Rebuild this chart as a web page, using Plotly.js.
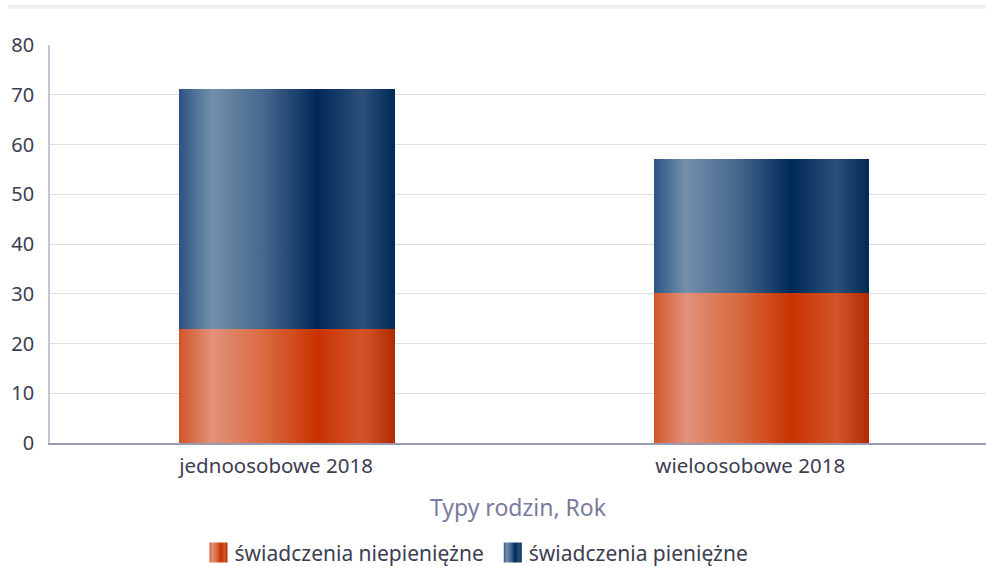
<!DOCTYPE html>
<html>
<head>
<meta charset="utf-8">
<script src="https://cdn.plot.ly/plotly-3.0.1.min.js"></script>
<style>
  html, body { margin: 0; padding: 0; background: #ffffff; overflow: hidden; }
  #chart { width: 986px; height: 567px; }
</style>
</head>
<body>
<div id="chart"></div>
<script>
  // values
  const categories = ["jednoosobowe 2018", "wieloosobowe 2018"];
  const nonCash = [22.9, 30.2];   // świadczenia niepieniężne
  const cash = [48.3, 26.9];      // świadczenia pieniężne
  const seriesNames = ["świadczenia niepieniężne", "świadczenia pieniężne"];
  const yTicks = [0, 10, 20, 30, 40, 50, 60, 70, 80];

  const gradients = {
    gOrange: [
      [0, "#d2552a"], [0.15, "#e2917a"], [0.4, "#d9693f"],
      [0.64, "#c83200"], [0.85, "#d4542a"], [1, "#b02c00"]
    ],
    gBlue: [
      [0, "#2c5482"], [0.15, "#7290aa"], [0.4, "#45668c"],
      [0.64, "#00295a"], [0.85, "#2c5078"], [1, "#002a55"]
    ]
  };

  const traces = [
    {
      type: "bar",
      name: seriesNames[0],
      x: categories,
      y: nonCash,
      marker: { color: "#c83200", line: { width: 0 } },
      hovertemplate: "%{x}<br>%{y}<extra></extra>"
    },
    {
      type: "bar",
      name: seriesNames[1],
      x: categories,
      y: cash,
      marker: { color: "#00295a", line: { width: 0 } },
      hovertemplate: "%{x}<br>%{y}<extra></extra>"
    }
  ];

  const textColor = "#3d3d52";

  const layout = {
    width: 986,
    height: 567,
    barmode: "stack",
    bargap: 0.546,
    paper_bgcolor: "#ffffff",
    plot_bgcolor: "#ffffff",
    font: { family: "Noto Sans, sans-serif", color: textColor },
    margin: { l: 50, r: 0, t: 45, b: 124 },
    showlegend: true,
    legend: {
      orientation: "h",
      xref: "paper",
      yref: "container",
      x: 0.453,
      xanchor: "center",
      y: 0.025,
      yanchor: "middle",
      font: { size: 21, color: textColor },
      itemwidth: 30,
      traceorder: "normal"
    },
    xaxis: {
      type: "category",
      range: [-0.5, 1.474],
      showgrid: false,
      showline: true,
      linecolor: "#9a9ab2",
      linewidth: 1.5,
      ticks: "",
      ticklabelshift: -11,
      ticklabelstandoff: 4,
      tickfont: { size: 20.5, color: textColor },
      title: {
        text: "Typy rodzin, Rok",
        font: { size: 23, color: "#7a7a9e" },
        standoff: 22
      },
      automargin: false,
      fixedrange: true
    },
    yaxis: {
      range: [0, 80],
      tickvals: yTicks,
      showgrid: true,
      gridcolor: "#dedee6",
      gridwidth: 1,
      showline: true,
      linecolor: "#c4c4d4",
      linewidth: 1.5,
      zeroline: false,
      ticks: "",
      ticklabelstandoff: 10,
      tickfont: { size: 20, color: textColor },
      automargin: false,
      fixedrange: true
    },
    shapes: [
      {
        type: "line", xref: "paper", yref: "paper",
        x0: -0.045, x1: 1.01, y0: 1.098, y1: 1.098,
        line: { color: "#dcdce4", width: 1 }
      },
      {
        type: "line", xref: "paper", yref: "paper",
        x0: -0.045, x1: 1.01, y0: 1.093, y1: 1.093,
        line: { color: "#e4e4ea", width: 1 }
      }
    ]
  };

  function addGradients(gd) {
    const svg = gd.querySelector(".main-svg");
    if (!svg) return;
    let defs = svg.querySelector("defs");
    if (!defs) {
      defs = document.createElementNS("http://www.w3.org/2000/svg", "defs");
      svg.insertBefore(defs, svg.firstChild);
    }
    Object.keys(gradients).forEach((id) => {
      if (defs.querySelector("#" + id)) return;
      const lg = document.createElementNS("http://www.w3.org/2000/svg", "linearGradient");
      lg.setAttribute("id", id);
      lg.setAttribute("x1", "0");
      lg.setAttribute("x2", "1");
      lg.setAttribute("y1", "0");
      lg.setAttribute("y2", "0");
      gradients[id].forEach(([off, col]) => {
        const stop = document.createElementNS("http://www.w3.org/2000/svg", "stop");
        stop.setAttribute("offset", off);
        stop.setAttribute("stop-color", col);
        lg.appendChild(stop);
      });
      defs.appendChild(lg);
    });

    const ids = ["gOrange", "gBlue"];
    gd.querySelectorAll(".barlayer .trace.bars").forEach((tr, i) => {
      tr.querySelectorAll(".point path").forEach((p) => {
        p.style.fill = "url(#" + ids[i] + ")";
      });
    });
    // bigger square legend swatches, like the reference
    gd.querySelectorAll(".legend .traces").forEach((tr, i) => {
      tr.querySelectorAll(".legendpoints path").forEach((p) => {
        p.setAttribute("d", "M-5,-10h18v20h-18z");
        p.style.fill = "url(#" + ids[i] + ")";
      });
    });
  }

  const gd = document.getElementById("chart");
  Plotly.newPlot(gd, traces, layout, { displayModeBar: false, responsive: false }).then(() => {
    addGradients(gd);
    gd.on("plotly_afterplot", () => addGradients(gd));
  });
</script>
</body>
</html>
